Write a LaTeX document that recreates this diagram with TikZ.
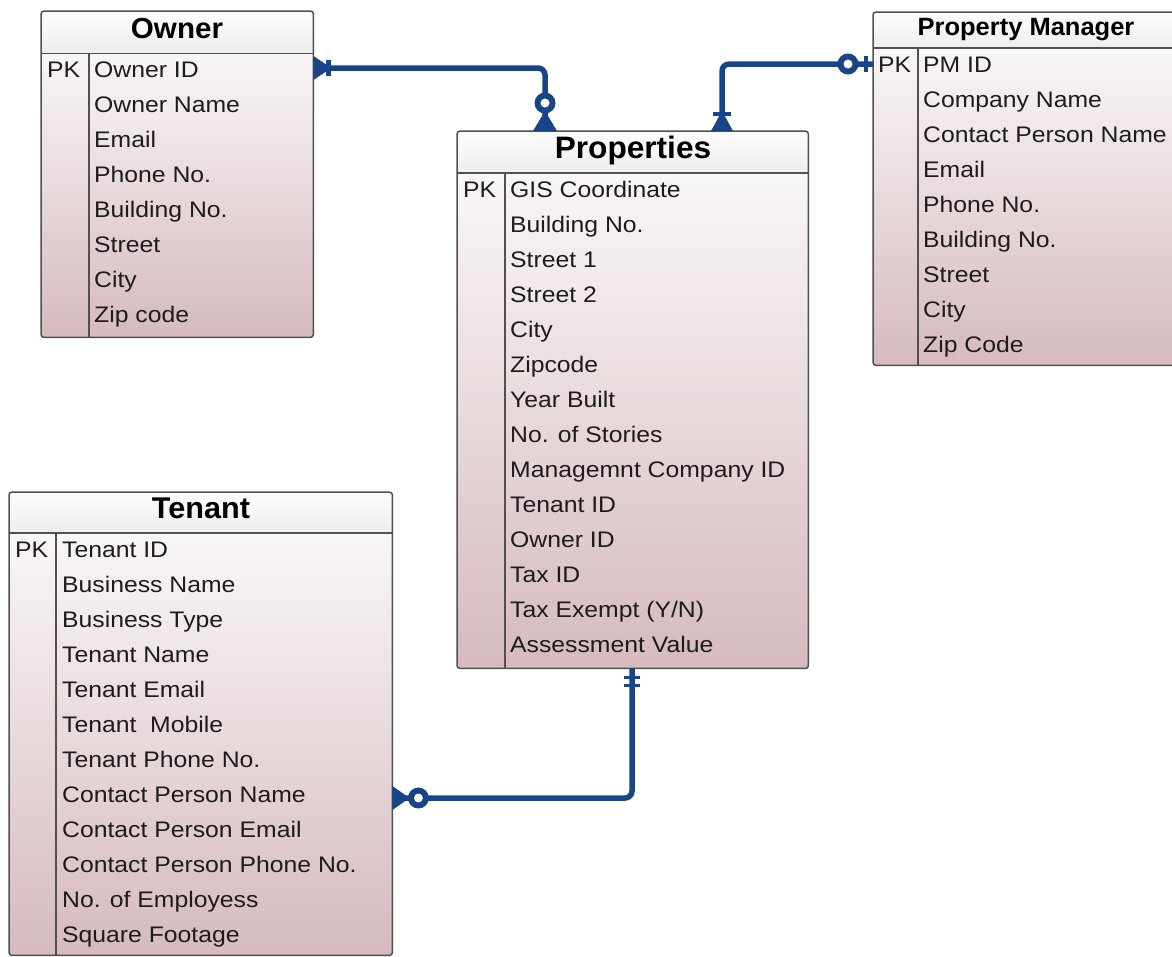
\documentclass[tikz,border=0pt]{standalone}
\usepackage{fontspec}
\setmainfont{Liberation Sans}
\newfontfamily\rowfont[FakeStretch=1.1]{Liberation Sans}
\newfontfamily\titlefont[FakeStretch=1.02]{Liberation Sans}
\definecolor{conn}{RGB}{24,68,138}
\definecolor{bodytop}{RGB}{249,247,247}
\definecolor{bodybot}{RGB}{214,186,190}
\definecolor{hdtop}{RGB}{253,253,253}
\definecolor{hdbot}{RGB}{238,237,237}
\definecolor{frame}{RGB}{80,80,80}
\definecolor{txt}{RGB}{28,28,28}
\tikzset{
  row/.style={anchor=base west, inner sep=0, font=\rowfont\fontsize{22.5}{26}\selectfont, text=txt},
  ttl/.style={anchor=base, inner sep=0, text=black},
  frm/.style={draw=frame, line width=1.5pt, rounded corners=3pt},
  sep/.style={draw=frame, line width=1.5pt},
  connline/.style={draw=conn, line width=5.5pt, rounded corners=7pt},
  cbar/.style={draw=conn, line width=4.5pt},
  ring/.style={fill=conn},
  hole/.style={fill=white},
}
% #1 name, #2 x1, #3 y1, #4 x2, #5 y2, #6 separator y, #7 divider x
\newcommand\makeTable[7]{%
  \node[inner sep=0, anchor=north west, minimum width={(#4-#2)*1pt}, minimum height={(#5-#3)*1pt}] (#1) at (#2,#3) {};
  \shade[top color=bodytop, bottom color=bodybot, rounded corners=3pt] (#2,#6-6) rectangle (#4,#5);
  \shade[top color=hdtop, bottom color=hdbot, rounded corners=3pt] (#2,#3) rectangle (#4,#6);
  \draw[frm] (#1.north west) rectangle (#1.south east);
  \draw[sep] (#2,#6) -- (#4,#6);
  \draw[sep, line width=1.2pt] (#7,#6) -- (#7,#5);
}
\begin{document}
\begin{tikzpicture}[x=1pt, y=-1pt]
\path[use as bounding box] (0,0) rectangle (1172,956);
\clip (0,0) rectangle (1172,956);

% ---------- tables ----------
\makeTable{owner}{41}{11}{313}{337}{53.5}{89}
\makeTable{props}{457}{131}{808}{668}{173}{505}
\makeTable{pm}{873}{12}{1179}{365}{48}{918}
\makeTable{tenant}{9}{492}{392}{955}{533}{56}

% titles
\node[ttl, font=\titlefont\bfseries\fontsize{29}{32}\selectfont] (ownerT) at (177,38) {Owner};
\node[ttl, font=\titlefont\bfseries\fontsize{31}{34}\selectfont] (propsT) at (633,158) {Properties};
\node[ttl, font=\titlefont\bfseries\fontsize{25}{28}\selectfont] (pmT) at (1026,35) {Property Manager};
\node[ttl, font=\titlefont\bfseries\fontsize{30}{33}\selectfont] (tenantT) at (201,518) {Tenant};

% PK labels
\node[row] (ownerPK) at (47,77) {PK};
\node[row] (propsPK) at (463,197) {PK};
\node[row] (pmPK) at (878,72) {PK};
\node[row] (tenantPK) at (15,557) {PK};

% rows
\foreach \t [count=\i] in {Owner ID, Owner Name, Email, Phone No., Building No., Street, City, Zip code}
  \node[row] (ow\i) at (94,{77+35*(\i-1)}) {\t};
\foreach \t [count=\i] in {GIS Coordinate, Building No., Street 1, Street 2, City, Zipcode, Year Built, No. of Stories, Managemnt Company ID, Tenant ID, Owner ID, Tax ID, Tax Exempt (Y/N), Assessment Value}
  \node[row] (pr\i) at (510,{197+35*(\i-1)}) {\t};
\foreach \t [count=\i] in {PM ID, Company Name, Contact Person Name, Email, Phone No., Building No., Street, City, Zip Code}
  \node[row] (pmr\i) at (923,{72+35*(\i-1)}) {\t};
\foreach \t [count=\i] in {Tenant ID, Business Name, Business Type, Tenant Name, Tenant Email, {Tenant\ \ Mobile}, Tenant Phone No., Contact Person Name, Contact Person Email, Contact Person Phone No., No. of Employess, Square Footage}
  \node[row] (te\i) at (62,{557+35*(\i-1)}) {\t};

% ---------- connector end points ----------
\path (owner.north east) ++(0,57) coordinate (oe);
\path (props.north west) ++(88,0) coordinate (pt1);
\path (pm.north west) ++(0,52) coordinate (pme);
\path (props.north west) ++(265,0) coordinate (pt2);
\path (props.south west) ++(175,0) coordinate (pb);
\path (tenant.north east) ++(0,306) coordinate (te);

% ---------- connectors ----------
\draw[connline] (oe) -| (pt1);
\draw[connline] (pme) -| (pt2);
\draw[connline] (pb) |- (te);

% Owner end: one or many
\fill[conn] (oe) ++(0,-12) -- ++(0,24) -- ++(18,-12) -- cycle;
\draw[cbar] (oe) ++(15,-8) -- ++(0,16);
% Properties top (owner): zero or many
\fill[conn] (pt1) ++(-12,0) -- ++(24,0) -- ++(-12,-20) -- cycle;
\fill[ring] (pt1) ++(0,-28) circle[radius=10.5];
\fill[hole] (pt1) ++(0,-28) circle[radius=4.5];
% PM end: zero or one
\draw[cbar] (pme) ++(-7,-8) -- ++(0,16);
\fill[ring] (pme) ++(-25,0) circle[radius=10.5];
\fill[hole] (pme) ++(-25,0) circle[radius=4.5];
% Properties top (PM): one or many
\fill[conn] (pt2) ++(-11,0) -- ++(22,0) -- ++(-11,-20) -- cycle;
\draw[cbar] (pt2) ++(-9,-17) -- ++(18,0);
% Properties bottom: one and only one
\draw[cbar, line width=3.5pt] (pb) ++(-8,9) -- ++(16,0);
\draw[cbar, line width=3.5pt] (pb) ++(-8,17) -- ++(16,0);
% Tenant end: zero or many
\fill[conn] (te) ++(0,-12) -- ++(0,24) -- ++(17,-12) -- cycle;
\fill[ring] (te) ++(26,0) circle[radius=10.5];
\fill[hole] (te) ++(26,0) circle[radius=4.5];
\end{tikzpicture}
\end{document}
